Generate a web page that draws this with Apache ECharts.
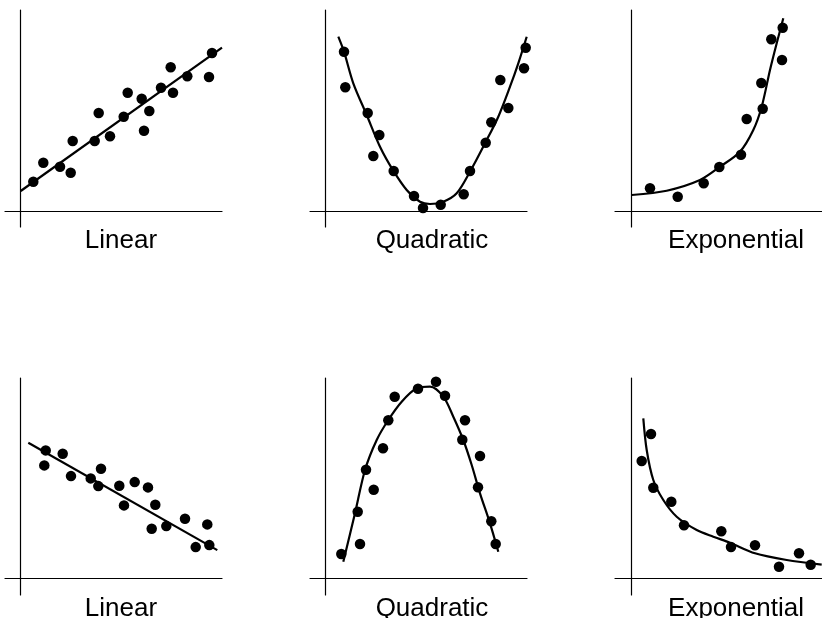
<!DOCTYPE html>
<html>
<head>
<meta charset="utf-8">
<script src="https://cdn.jsdelivr.net/npm/echarts@6/dist/echarts.min.js"></script>
<style>
html,body{margin:0;padding:0;background:#fff;}
#c{width:822px;height:618px;}
</style>
</head>
<body>
<div id="c"></div>
<script>
// ---- data (units relative to each panel's axis origin) ----
const labels = ['Linear', 'Quadratic', 'Exponential', 'Linear', 'Quadratic', 'Exponential'];

const linUpPoints = [[12.6,29.3],[22.6,48.3],[39.3,44.3],[50,38.3],[52,70],[74,70],[78,98],[89.3,74.7],[103,94.3],[107,118.3],[121,112.3],[123.3,80.3],[128.6,100],[140.3,123.3],[150,143.7],[152.3,118.3],[166.6,134.7],[188.3,134],[191.3,158]];
const linUpFit = [[0,20],[201.3,163.3]];

const quadUpPoints = [[18.7,159.3],[20,123.7],[42.4,98],[54,76],[48,55],[68.4,40],[88.7,15],[97.7,3],[115.4,6.3],[138.4,16.7],[144.7,40],[160.4,68.3],[166,88.7],[175,131],[183,103],[198.7,142.7],[200.4,163.3]];
const quadUpFit = [[13,174.3],[18.7,159.3],[28,127.7],[41.4,96],[54.7,64.3],[68,40.3],[81.4,21],[94.7,9.3],[104.7,7],[118,9.3],[131.4,17.7],[144.7,39.3],[159.7,67.7],[173,94.3],[184.7,124.3],[193,147.7],[201.4,174.3]];

const expUpPoints = [[18.3,22.7],[46,14.3],[72,27.7],[87.6,44],[109.3,56.3],[115,92],[131,102.3],[129.6,128],[139.6,171.7],[150.3,151],[151,183.3]];
const expUpFit = [[0,16],[35,20.3],[68.3,31],[88.3,44.3],[108.3,59.3],[121.6,81],[130,104.3],[138.3,141],[145,167.7],[151.6,192.7]];

const linDownPoints = [[25.7,128.3],[24.3,113.3],[42.7,125],[51,102.6],[70.7,100.3],[81,110],[78.3,92.6],[99.3,93],[104,73.3],[114.7,96.6],[128,91.3],[135.3,74],[131.7,50],[146.3,52.6],[165,60],[175.7,31.6],[187.3,54.3],[189.3,33.6]];
const linDownFit = [[8.3,136],[197.3,28.6]];

const quadDownPoints = [[16,24.7],[34.7,34.7],[32.4,67],[48.4,89],[40.7,109],[57.7,130.4],[63,158.4],[69.4,182],[92.7,190],[110.7,197],[119.7,183],[139.7,158.4],[137,139],[154.7,122.7],[152.7,91.4],[166,57.4],[170.4,34.7]];
const quadDownFit = [[18,17],[29.7,65.4],[39.7,108.7],[51.4,138.7],[63,158.7],[76.4,177],[91.4,190.4],[104.7,192],[118,182],[128,162],[138,138.7],[146.4,113.7],[154.7,85.4],[164.7,55.4],[173,27]];

const expDownPoints = [[10,117.7],[19.3,144.7],[21.6,91],[39.6,77],[52.3,53.4],[89.6,47.4],[99.3,31.7],[123.3,33.4],[147.3,12],[167.3,25.4],[179,14]];
const expDownFit = [[11.6,160.4],[15,128.7],[21.6,98.7],[31.6,78.7],[45,62],[65,48.7],[81.6,42],[98.3,36],[123.3,25.4],[155,18.7],[190,14]];

const panelPoints = [linUpPoints, quadUpPoints, expUpPoints, linDownPoints, quadDownPoints, expDownPoints];
const panelFits = [linUpFit, quadUpFit, expUpFit, linDownFit, quadDownFit, expDownFit];
const panelSmooth = [false, true, true, false, true, true];

// ---- layout ----
const panelBoxes = [
  {left: 5,   top: 10,  width: 217, height: 217, xmin: -15.7, ymin: -16},
  {left: 310, top: 10,  width: 217, height: 217, xmin: -15.3, ymin: -16},
  {left: 615, top: 10,  width: 207, height: 217, xmin: -16.7, ymin: -16},
  {left: 5,   top: 378, width: 217, height: 217, xmin: -15,   ymin: -16.3},
  {left: 310, top: 378, width: 217, height: 217, xmin: -15.3, ymin: -16.3},
  {left: 615, top: 378, width: 207, height: 217, xmin: -16.7, ymin: -16.3}
];
const labelPos = [[121,241],[432,241],[736,241],[121,609],[432,609],[736,609]];

const grid = [], xAxis = [], yAxis = [], series = [], graphic = [];
const axisLine = {show: true, onZero: true, lineStyle: {color: '#000', width: 1.2}};
panelBoxes.forEach((b, i) => {
  grid.push({left: b.left, top: b.top, width: b.width, height: b.height, containLabel: false});
  xAxis.push({type: 'value', gridIndex: i, min: b.xmin, max: b.xmin + b.width,
    axisLine: axisLine, axisTick: {show: false}, axisLabel: {show: false}, splitLine: {show: false}});
  yAxis.push({type: 'value', gridIndex: i, min: b.ymin, max: b.ymin + b.height,
    axisLine: axisLine, axisTick: {show: false}, axisLabel: {show: false}, splitLine: {show: false}});
  series.push({type: 'line', xAxisIndex: i, yAxisIndex: i, data: panelFits[i],
    smooth: panelSmooth[i] ? 0.3 : false, showSymbol: false, symbol: 'none', clip: false,
    lineStyle: {color: '#000', width: 2.2}, z: 3, silent: true, animation: false});
  series.push({type: 'scatter', xAxisIndex: i, yAxisIndex: i, data: panelPoints[i],
    symbolSize: 10.5, itemStyle: {color: '#000', opacity: 1}, clip: false, z: 4, silent: true, animation: false});
  graphic.push({type: 'text', x: labelPos[i][0], y: labelPos[i][1],
    style: {text: labels[i], fill: '#000', font: '26px "Liberation Sans", Arial, sans-serif',
      align: 'center', verticalAlign: 'middle', textAlign: 'center', textVerticalAlign: 'middle'}});
});

const chart = echarts.init(document.getElementById('c'));
chart.setOption({
  animation: false,
  backgroundColor: '#fff',
  grid, xAxis, yAxis, series, graphic
});
</script>
</body>
</html>
